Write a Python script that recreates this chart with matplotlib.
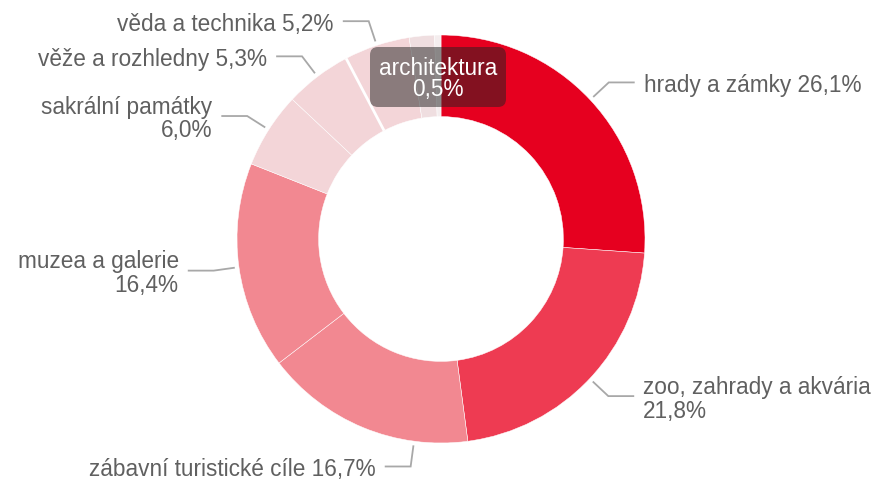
import numpy as np
import matplotlib
matplotlib.use("Agg")
import matplotlib.pyplot as plt
from matplotlib.patches import FancyBboxPatch

plt.rcParams['font.family'] = ['Liberation Sans', 'DejaVu Sans']

# data (share of visits, %)
names = ['hrady a zámky', 'zoo, zahrady a akvária', 'zábavní turistické cíle',
         'muzea a galerie', 'sakrální památky', 'věže a rozhledny',
         'věda a technika', 'ostatní', 'architektura']
values = [26.1, 21.8, 16.7, 16.4, 6.0, 5.3, 5.2, 2.0, 0.5]
colors = ['#E6001F', '#EE3B52', '#F28891', '#F28891', '#F3D5D8', '#F3D5D8',
          '#F3D5D8', '#EFDEE0', '#F4EDEE']
# label layout: show?, wrap?, anchor angle override (deg clockwise from top)
show_label = [True, True, True, True, True, True, True, False, False]
wrap_label = [False, True, False, True, True, False, False, False, False]
anchor_override = {2: 187.6}

text_col = '#606060'
line_col = '#A8A8A8'
px = 1 / 204.0  # one pixel in pie units

fig = plt.figure(figsize=(8.78, 4.8), dpi=100)
ax = fig.add_axes([0, 0, 1, 1])
wedges, _ = ax.pie(values, colors=colors, startangle=90, counterclock=False,
                   radius=1.0, wedgeprops=dict(width=0.4, edgecolor='white',
                                                linewidth=0.35))
ax.set_xlim(-441 * px, 437 * px)
ax.set_ylim(-241 * px, 239 * px)
ax.set_aspect('equal')
ax.axis('off')

total = sum(values)
cum = np.cumsum([0] + values)

# thicker white gap between "věže" and "věda"
b = np.deg2rad(cum[6] / total * 360)
ax.plot([0.6 * np.sin(b), 1.0 * np.sin(b)], [0.6 * np.cos(b), 1.0 * np.cos(b)],
        color='white', lw=2, solid_capstyle='butt')

for i, name in enumerate(names):
    if not show_label[i]:
        continue
    mid = (cum[i] + values[i] / 2) / total * 360
    ang = np.deg2rad(anchor_override.get(i, mid))
    sx, sy = 1.025 * np.sin(ang), 1.025 * np.cos(ang)
    ex, ey = 1.125 * np.sin(ang), 1.125 * np.cos(ang)
    side = 1 if np.sin(np.deg2rad(mid)) > 0 else -1
    hx = ex + side * 25 * px
    ax.plot([sx, ex, hx], [sy, ey, ey], color=line_col, lw=1.3,
            solid_joinstyle='miter')
    val = f"{values[i]:.1f}%".replace('.', ',')
    txt = name + ('\n' if wrap_label[i] else ' ') + val
    ax.text(hx + side * 10 * px, ey - 3 * px, txt, fontsize=16.3, color=text_col,
            ha='left' if side > 0 else 'right', va='center',
            multialignment='left' if side > 0 else 'right', linespacing=1.05)

# hover tooltip over "architektura"
tip = FancyBboxPatch((-71 * px, 132 * px), 136 * px, 60 * px,
                     boxstyle=f"round,pad=0,rounding_size={8 * px}",
                     facecolor='#222222', edgecolor='none', alpha=0.5, zorder=5)
ax.add_patch(tip)
ax.text(-3 * px, 171 * px, names[8], fontsize=16.3, color='white',
        ha='center', va='center', zorder=6)
ax.text(-3 * px, 150 * px, f"{values[8]:.1f}%".replace('.', ','), fontsize=16.3,
        color='white', ha='center', va='center', zorder=6)

fig.savefig('out.png', dpi=100)
